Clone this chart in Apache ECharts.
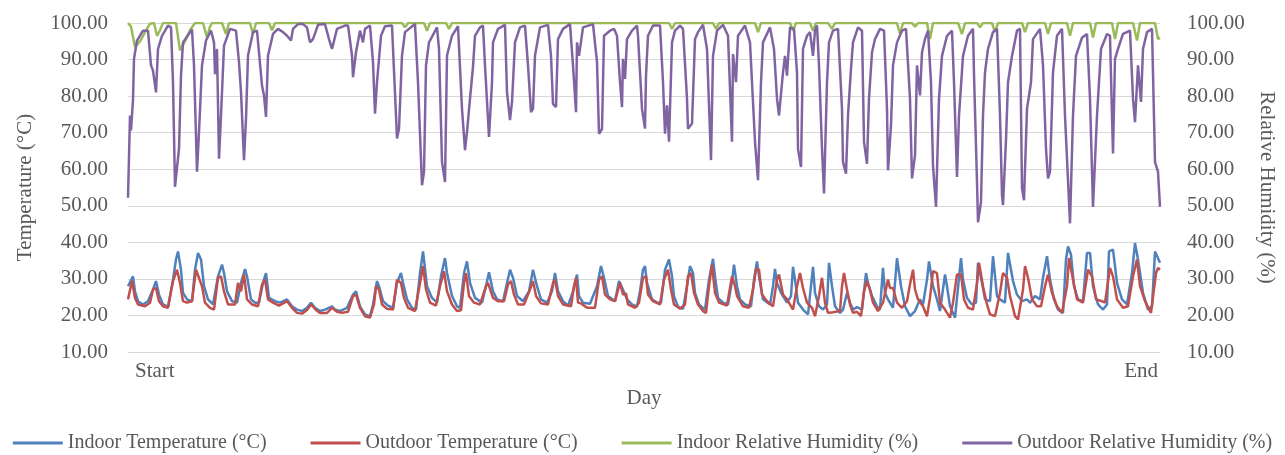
<!DOCTYPE html>
<html><head><meta charset="utf-8">
<script src="https://cdn.jsdelivr.net/npm/echarts@6/dist/echarts.min.js"></script>
<style>html,body{margin:0;padding:0;background:#fff}#c{width:1285px;height:455px}</style>
</head><body><div id="c"></div>
<script>
// reading index t (0 = Start, 1032 = End), value
const xTickLabels = ['Start', 'End'];
const tMax = 1032;
const seriesNames = ['Indoor Temperature (°C)', 'Outdoor Temperature (°C)', 'Indoor Relative Humidity (%)', 'Outdoor Relative Humidity (%)'];

const indoorTemp = [[0,28],[5,30.7],[7,26.6],[10,23.9],[15,23],[20,23.9],[25,27.1],[28,29.4],[31,25.7],[35,23],[40,22.4],[45,29.8],[48,35.3],[50,37.5],[53,32.5],[55,26.2],[59,24.4],[64,23.9],[67,32.5],[70,37.1],[73,35.3],[76,28],[80,24.4],[85,23],[90,30.7],[94,33.9],[96,31.6],[99,26.6],[104,23.9],[109,23.5],[113,28.9],[117,32.7],[119,30.7],[123,24.4],[127,23.5],[131,23.5],[135,28.9],[138,31.6],[141,24.8],[147,23.9],[152,23.5],[159,24.4],[164,22.5],[169,21.6],[174,21.2],[179,22.1],[183,23.5],[187,22.1],[192,21.2],[197,21.6],[204,22.5],[207,21.6],[212,21.2],[219,22.1],[225,25.7],[228,26.6],[232,22.5],[237,20.3],[242,19.8],[245,23],[249,29.4],[251,28],[255,23.9],[260,22.7],[265,22.1],[269,28.9],[273,31.6],[275,28.9],[279,24.4],[284,22.1],[288,21.6],[292,31.6],[295,37.5],[299,28],[304,24.8],[309,23.5],[313,30.7],[317,35.7],[319,31.6],[324,25.3],[329,22.5],[332,22.1],[336,31.6],[339,34.8],[342,28.9],[347,24.8],[354,23.5],[358,28],[361,31.8],[365,26.6],[369,24.4],[375,23.9],[379,28.9],[382,32.5],[385,30.3],[389,25.3],[395,23.9],[401,26.6],[405,32.5],[409,28],[413,24.4],[419,23.5],[424,26.6],[427,31.6],[430,26.6],[435,23.9],[440,22.7],[445,26.6],[449,31.2],[451,25.3],[455,23.5],[462,23.2],[469,28],[473,33.5],[476,30.3],[480,25.3],[487,23.9],[491,29.4],[495,27],[499,24.4],[504,23],[509,22.4],[512,26.6],[515,32.5],[517,33.5],[519,28.9],[524,24.4],[529,23.5],[533,23.5],[537,32.5],[541,35.3],[544,30.7],[546,25.3],[550,22.4],[555,21.8],[559,28],[562,33.5],[565,31.6],[567,26.2],[571,23],[577,21.6],[581,29.8],[585,35.5],[587,30.7],[590,24.8],[595,23.5],[600,23],[604,29.4],[606,33.9],[609,28],[612,24.4],[617,23],[623,22.5],[626,29.8],[629,34.8],[631,30.7],[635,24.4],[642,23],[645,28],[647,32.7],[649,28.9],[653,26.2],[659,23.5],[663,25.3],[665,33.3],[667,29.8],[670,23.5],[675,21.6],[680,20.3],[685,33.3],[687,26.2],[691,22.5],[695,21.6],[699,23],[701,34.4],[704,28],[707,22.5],[712,20.7],[715,21.6],[719,26.2],[722,23.5],[725,21.6],[729,22.3],[734,21.6],[738,31.6],[740,28.9],[744,25.3],[749,22.5],[752,21.6],[755,33],[757,26.2],[760,24.4],[765,22.1],[769,35.7],[773,28],[777,22.5],[782,19.8],[787,21.2],[792,24.4],[795,23],[799,29.8],[801,34.8],[805,28],[809,24.4],[812,21.2],[817,31.2],[819,28],[822,22.5],[827,19.4],[829,18.9],[833,35.7],[835,29.8],[839,24.8],[844,23],[848,23.5],[850,34.4],[854,28.9],[857,24.4],[862,23.9],[865,36.2],[869,25.3],[872,24.4],[877,23.5],[880,37.1],[885,29.4],[889,25.7],[894,23.9],[899,24.4],[902,23.5],[907,25.3],[912,24.4],[915,30.3],[919,36.2],[922,29.8],[926,24.4],[930,21.6],[935,20.7],[938,35.3],[940,38.9],[943,36.6],[946,28],[950,24.4],[955,23.9],[959,37.1],[962,37.1],[965,28],[970,23],[975,21.6],[979,23],[981,37.5],[985,38],[989,28.9],[994,24.4],[999,23],[1004,31.6],[1007,39.8],[1010,35.3],[1015,26.2],[1020,21.6],[1024,22.5],[1027,37.5],[1029,38],[1032,34.4]];

const outdoorTemp = [[0,24.4],[4,29.4],[7,24.8],[10,23],[17,22.5],[22,23.5],[25,27.1],[28,27.5],[31,23.9],[35,22.5],[40,22.1],[45,29.4],[49,32.5],[52,28.9],[55,23.9],[59,23.5],[64,23.9],[68,32.5],[70,32.5],[74,28],[77,23.5],[82,22.1],[86,21.6],[90,30.3],[93,30.7],[96,26.6],[100,23],[107,23],[110,28.9],[113,26.6],[116,31.2],[119,24.4],[124,23],[130,22.5],[134,28.5],[137,29.8],[140,24.4],[145,23.5],[151,22.7],[159,23.9],[164,22.1],[169,20.7],[174,20.5],[179,21.5],[183,23],[188,21.5],[192,20.7],[199,20.7],[204,22.1],[209,21],[214,20.7],[220,21],[225,25.3],[228,25.7],[232,22.1],[237,19.8],[242,19.4],[246,23],[248,28],[251,27.1],[254,23],[259,21.8],[265,21.6],[269,29.8],[273,28.9],[276,24.8],[280,22.1],[287,21.2],[292,28.9],[295,33.5],[298,27.1],[302,23.5],[308,22.7],[312,28],[316,32.1],[319,26.6],[324,23],[329,21.2],[333,21.4],[336,28.9],[338,31.6],[341,25.3],[346,23.5],[352,23],[358,28],[360,28.9],[365,24.8],[370,23.9],[376,23.9],[380,28.5],[383,29.4],[386,25.7],[390,23],[396,23],[402,27.1],[405,29.4],[408,25.3],[413,23.3],[420,23],[425,28.9],[427,29.8],[430,25.3],[435,23],[443,22.5],[446,28],[448,30.3],[450,23.5],[453,23.3],[459,22.1],[467,22.1],[471,29.8],[474,30.7],[477,25.7],[482,24.4],[487,23.9],[492,28.9],[495,25.7],[498,26],[500,23],[507,22.1],[511,23.5],[515,30.3],[518,30.7],[520,25.7],[525,23.9],[532,23],[536,29.8],[540,32.5],[543,27.1],[546,23],[552,21.8],[557,23],[560,30.7],[563,31.6],[566,26.2],[570,23],[575,21.2],[578,20.7],[581,28],[584,33.9],[587,26.2],[591,23.5],[599,22.7],[604,30.7],[607,28],[609,25.3],[615,22.5],[621,22.1],[625,27.1],[628,32.7],[631,32.5],[634,25.7],[639,23.9],[645,22.5],[649,29.8],[651,31.2],[655,25.7],[659,24.4],[665,21.6],[669,28],[672,31.6],[675,27.5],[679,23.5],[684,22.1],[687,19.8],[691,25.3],[694,30.3],[697,23.5],[700,20.7],[705,20.9],[712,21.2],[714,28],[716,31.6],[719,27.1],[722,23],[725,20.7],[729,21],[733,19.8],[736,26.6],[739,29.4],[742,27],[745,23.5],[750,21.2],[755,23.5],[760,29.8],[762,27.5],[765,27.5],[769,23.5],[774,22.1],[779,23.9],[782,28.5],[785,32.5],[787,27.1],[790,24.4],[795,22.5],[799,19.8],[802,24.8],[805,32.1],[809,31.6],[812,23.5],[817,21.6],[822,19.4],[825,23.5],[829,31.2],[833,31.2],[836,24.4],[840,22.1],[845,21.6],[849,28.9],[851,34.4],[855,28],[859,23],[862,20.3],[867,19.8],[872,26.2],[875,31.6],[879,30.3],[882,25.3],[887,19.8],[890,18.9],[895,27.1],[897,33.5],[900,30.3],[904,24.4],[909,22.5],[913,22.5],[917,28],[920,31.2],[924,26.2],[929,22.5],[934,20.7],[939,28],[941,35.7],[945,29.8],[949,24.4],[955,23.5],[960,32.5],[964,30.7],[968,24.4],[974,23.9],[977,23.5],[982,33],[985,30.7],[989,24.4],[995,22.1],[1000,22.5],[1005,30.7],[1009,35.3],[1012,28],[1017,23.9],[1023,20.7],[1025,21.2],[1028,31.6],[1030,33],[1032,32.5]];

const indoorRH = [[0,100],[3,99],[7,93.4],[12,95],[17,97.5],[22,99.8],[26,100],[29,96.5],[32,98],[35,100],[48,100],[52,92.5],[57,95],[62,98],[67,100],[75,100],[79,96],[82,99],[84,100],[94,100],[98,97],[101,100],[122,100],[125,97],[128,100],[141,100],[144,98],[147,100],[274,100],[277,98.8],[280,100],[296,100],[299,97.9],[302,100],[318,100],[321,98.4],[324,100],[541,100],[544,98.4],[547,100],[585,100],[588,98.4],[591,100],[627,100],[630,97.5],[633,100],[662,100],[665,97.9],[668,100],[682,100],[685,97.9],[688,100],[700,100],[704,98.4],[707,100],[769,100],[772,97],[775,100],[784,100],[787,99],[790,100],[799,100],[802,95.6],[805,100],[830,100],[834,97],[837,100],[849,100],[852,98.8],[855,100],[864,100],[867,97.5],[870,100],[894,100],[897,97.5],[900,100],[917,100],[920,97],[923,100],[939,100],[942,96.5],[945,100],[962,100],[965,96],[968,100],[984,100],[987,95.6],[990,100],[1005,100],[1009,95.2],[1012,100],[1027,100],[1030,95.6],[1032,96]];

const outdoorRH = [[0,52.2],[2,74.7],[3,70.6],[5,79],[6,90.2],[9,95.2],[15,97.9],[20,97.9],[23,88.4],[25,87],[28,81],[30,92.9],[34,96.5],[40,99.3],[43,98.8],[45,83.8],[47,55.2],[49,55.6],[51,65.6],[53,85.6],[55,94.7],[64,98.2],[66,88.4],[69,59.3],[71,70.2],[74,88.4],[78,95.2],[83,97.9],[86,94.7],[87,86],[89,92.9],[91,62.9],[93,74.7],[96,93.8],[102,98.4],[108,97.9],[111,89.3],[113,81.1],[116,62.5],[118,73.8],[120,91.1],[125,97.5],[129,97.9],[134,82.9],[136,80.2],[138,74.3],[140,91.1],[145,97],[150,98.4],[155,97.5],[159,96.5],[163,95.2],[165,98.4],[170,99.7],[175,99.7],[179,98.8],[182,94.7],[185,95.6],[190,99.5],[197,99.7],[201,95.6],[204,92.9],[209,98.4],[217,99.3],[220,99.3],[224,91.1],[225,85.2],[228,92],[232,97.9],[235,94.7],[237,98.4],[242,99.3],[245,89.3],[247,75.2],[249,83.8],[253,96.5],[257,99.1],[264,99.3],[269,68.4],[271,71.1],[274,91.1],[277,97.5],[287,99.7],[290,83.8],[294,55.6],[296,59.3],[298,88.4],[301,94.7],[309,98.8],[311,92.9],[314,62],[317,56.5],[319,91.1],[324,96.5],[330,99.1],[334,76.5],[337,65.2],[339,70.2],[342,79.3],[345,88],[347,96.5],[352,98.8],[355,99.3],[357,88.4],[361,68.8],[364,83.8],[365,94.7],[370,98.4],[377,99.5],[379,81],[382,73.4],[384,78.4],[387,94.7],[392,98.8],[397,99.3],[400,88.4],[403,75.6],[405,76.5],[407,91.1],[412,98.8],[420,99.5],[423,91],[425,77.9],[428,77],[430,95.6],[435,98.4],[442,99.7],[445,88.4],[448,75.6],[449,94.7],[451,91],[455,98.8],[465,99.7],[469,89.3],[471,69.7],[474,71],[476,96.5],[482,97.9],[486,98.4],[489,96.5],[492,83.8],[494,77],[495,90.2],[497,84.7],[499,95.6],[504,97.9],[509,99.3],[510,96.5],[514,76.5],[517,71.1],[518,85.6],[520,96.5],[525,99.3],[532,99.3],[535,83.8],[537,69.7],[539,77.5],[541,67.5],[544,94.7],[547,97.9],[552,99.3],[555,98.4],[559,79.3],[560,71.1],[564,72.5],[567,95.6],[570,97.5],[575,99.5],[579,92.9],[583,62.5],[585,91],[589,97.9],[595,99.5],[600,96.5],[604,67.5],[605,91.5],[608,83.8],[610,96.5],[617,99.3],[622,94.7],[627,67.5],[630,57],[633,83.8],[635,94.7],[642,98.8],[646,92.9],[649,79.3],[651,74.7],[655,86.5],[657,91],[659,85.6],[662,98.8],[666,98.4],[669,86.5],[670,65.6],[673,60.6],[675,92.9],[679,96.5],[682,97.5],[685,91],[687,98],[689,99.3],[691,88.4],[694,65.6],[696,53.4],[699,83.8],[701,94.7],[705,97.9],[710,98.4],[714,76.5],[715,62],[718,58.8],[720,74.7],[723,87.5],[725,94.7],[730,98.8],[734,97.9],[736,67.5],[739,61.5],[741,79.3],[744,92],[747,95.6],[752,98.4],[756,97.9],[759,76.5],[760,59.7],[763,72],[765,88.4],[769,94.7],[774,97.9],[778,98.4],[782,79.3],[784,57.5],[787,63.8],[789,88.4],[792,80.2],[794,92],[797,95.6],[800,97.9],[803,83.8],[805,61],[808,49.7],[811,79.3],[814,91],[819,96.5],[824,97.9],[826,83.8],[829,57.9],[831,74.7],[835,91],[840,96.5],[845,98.4],[846,86],[849,56.5],[850,45.5],[853,51],[855,74.7],[857,86.5],[860,92.9],[865,97.5],[869,98.4],[872,74.7],[874,52.9],[875,50.2],[878,68],[880,83.8],[884,91],[889,97.9],[892,98.4],[894,54.7],[896,51.5],[899,76.5],[903,83.8],[905,95.6],[912,98.4],[915,88.4],[918,65.6],[920,57.5],[922,59.3],[925,86.5],[929,96.5],[934,98.4],[937,74.7],[942,45.2],[945,74.7],[948,91],[954,96],[959,97],[962,79.3],[965,49.7],[969,74.7],[973,92.9],[979,97],[982,96.5],[984,74.7],[985,64.3],[987,90.2],[990,92.9],[995,97],[1002,97.9],[1005,79.3],[1007,72.9],[1010,88.4],[1013,78.4],[1015,92.9],[1019,97.5],[1024,98.4],[1027,62],[1030,59.3],[1032,49.7]];

const FONT = 'Liberation Serif';
const FS = 21;
const axisText = { color: '#595959', fontFamily: FONT, fontSize: FS };
const colors = ['#4F81BD', '#C0504D', '#9BBB59', '#8064A2'];
const datasets = [indoorTemp, outdoorTemp, indoorRH, outdoorRH];

const chart = echarts.init(document.getElementById('c'), null, { renderer: 'canvas' });
const yAxisBase = (pos, name, gap, rot) => ({
  type: 'value', position: pos, min: 10, max: 100, interval: 10,
  name: name, nameLocation: 'middle', nameGap: gap, nameRotate: rot,
  nameTextStyle: { color: '#595959', fontFamily: FONT, fontSize: FS },
  axisLine: { show: false }, axisTick: { show: false },
  axisLabel: Object.assign({ formatter: v => v.toFixed(2), margin: pos === 'left' ? 20 : 27 }, axisText),
  splitLine: { show: pos === 'left', lineStyle: { color: '#d9d9d9', width: 1 } }
});
chart.setOption({
  animation: false,
  color: colors,
  grid: { left: 128, right: 125, top: 23, bottom: 103, containLabel: false },
  legend: {
    bottom: 2, left: 'center', width: 1285, padding: 0, itemWidth: 50, itemHeight: 3, itemGap: 44, icon: 'rect',
    textStyle: { color: '#595959', fontFamily: FONT, fontSize: 20 },
    data: seriesNames
  },
  xAxis: {
    type: 'value', min: 0, max: tMax, interval: tMax,
    name: 'Day', nameLocation: 'middle', nameGap: 36,
    nameTextStyle: { color: '#595959', fontFamily: FONT, fontSize: FS },
    axisLine: { show: true, onZero: false, lineStyle: { color: '#d9d9d9', width: 1 } },
    axisTick: { show: false }, splitLine: { show: false },
    axisLabel: Object.assign({
      formatter: v => (v === 0 ? xTickLabels[0] : xTickLabels[1]),
      alignMinLabel: 'left', alignMaxLabel: 'right', margin: 9, padding: [0, 2, 0, 7]
    }, axisText)
  },
  yAxis: [
    yAxisBase('left', 'Temperature (°C)', 92, 90),
    yAxisBase('right', 'Relative Humidity (%)', 86, -90)
  ],
  series: datasets.map((d, i) => ({
    name: seriesNames[i], type: 'line', data: d, yAxisIndex: i < 2 ? 0 : 1,
    showSymbol: false, symbol: 'none', lineStyle: { width: 2.5, color: colors[i] },
    z: 2 + i
  }))
});
</script></body></html>
